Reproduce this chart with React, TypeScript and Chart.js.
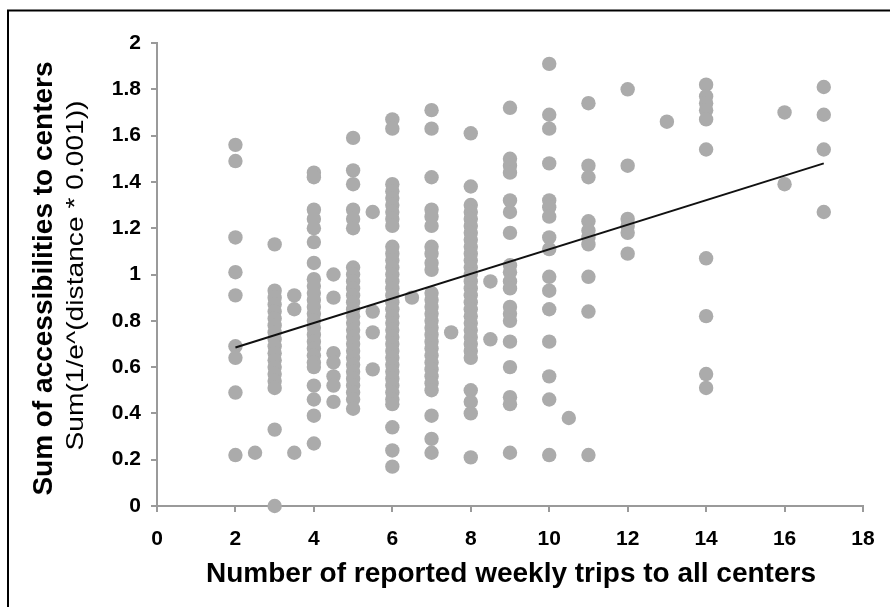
import React, { useEffect, useRef } from "react";
import { Chart, registerables } from "chart.js";

Chart.register(...registerables);

// Reported weekly trips (x positions of the point columns)
const tripCounts = [2, 2.5, 3, 3.5, 4, 4.5, 5, 5.5, 6, 6.5, 7, 7.5, 8, 8.5, 9, 10, 10.5, 11, 12, 13, 14, 16, 17];

// Sum of accessibilities for each trip-count column (parallel to tripCounts)
const accessibilityByTrips = [
  [1.56, 1.49, 1.16, 1.01, 0.91, 0.69, 0.64, 0.49, 0.22],
  [0.23],
  [1.13, 0.93, 0.9, 0.87, 0.84, 0.81, 0.78, 0.75, 0.72, 0.69, 0.66, 0.63, 0.6, 0.57, 0.54, 0.51, 0.33, 0.0],
  [0.91, 0.85, 0.23],
  [1.44, 1.42, 1.28, 1.24, 1.2, 1.14, 1.05, 0.98, 0.95, 0.92, 0.89, 0.86, 0.83, 0.8, 0.77, 0.74, 0.71, 0.68, 0.65, 0.62, 0.6, 0.52, 0.46, 0.39, 0.27],
  [1.0, 0.9, 0.66, 0.62, 0.56, 0.52, 0.45],
  [1.59, 1.45, 1.39, 1.28, 1.24, 1.2, 1.03, 1.0, 0.97, 0.94, 0.91, 0.88, 0.85, 0.82, 0.79, 0.76, 0.73, 0.7, 0.67, 0.64, 0.61, 0.58, 0.55, 0.52, 0.49, 0.46, 0.42],
  [1.27, 0.84, 0.75, 0.59],
  [1.67, 1.63, 1.39, 1.36, 1.33, 1.3, 1.27, 1.24, 1.21, 1.12, 1.09, 1.06, 1.03, 1.0, 0.97, 0.94, 0.91, 0.88, 0.85, 0.82, 0.79, 0.76, 0.73, 0.7, 0.67, 0.64, 0.61, 0.58, 0.55, 0.52, 0.49, 0.46, 0.44, 0.34, 0.24, 0.17],
  [0.9],
  [1.71, 1.63, 1.42, 1.28, 1.25, 1.21, 1.12, 1.09, 1.05, 1.02, 0.92, 0.89, 0.86, 0.83, 0.8, 0.77, 0.74, 0.71, 0.68, 0.65, 0.62, 0.59, 0.56, 0.53, 0.5, 0.39, 0.29, 0.23],
  [0.75],
  [1.61, 1.38, 1.3, 1.27, 1.24, 1.21, 1.18, 1.15, 1.12, 1.09, 1.06, 1.03, 1.0, 0.97, 0.94, 0.91, 0.88, 0.85, 0.82, 0.79, 0.76, 0.73, 0.7, 0.67, 0.64, 0.5, 0.45, 0.4, 0.21],
  [0.97, 0.72],
  [1.72, 1.5, 1.47, 1.44, 1.32, 1.27, 1.18, 1.04, 1.01, 0.97, 0.94, 0.86, 0.83, 0.8, 0.71, 0.6, 0.47, 0.44, 0.23],
  [1.91, 1.69, 1.63, 1.48, 1.32, 1.29, 1.25, 1.16, 1.11, 0.99, 0.93, 0.85, 0.71, 0.56, 0.46, 0.22],
  [0.38],
  [1.74, 1.47, 1.42, 1.23, 1.19, 1.16, 1.13, 0.99, 0.84, 0.22],
  [1.8, 1.47, 1.24, 1.21, 1.18, 1.09],
  [1.66],
  [1.82, 1.77, 1.74, 1.71, 1.67, 1.54, 1.07, 0.82, 0.57, 0.51],
  [1.7, 1.39],
  [1.81, 1.69, 1.54, 1.27],
];

// Linear trend line end points
const trendX = [2, 17];
const trendY = [0.685, 1.48];

// Axis ticks
const xTicks = [0, 2, 4, 6, 8, 10, 12, 14, 16, 18];
const yTicks = [0, 0.2, 0.4, 0.6, 0.8, 1, 1.2, 1.4, 1.6, 1.8, 2];

const xTitle = "Number of reported weekly trips to all centers";
const yTitleMain = "Sum of accessibilities to centers";
const yTitleSub = "Sum(1/e^(distance * 0.001))";

const FONT = "'Liberation Sans', Arial, Helvetica, sans-serif";

export default function App() {
  const canvasRef = useRef<HTMLCanvasElement | null>(null);

  useEffect(() => {
    const canvas = canvasRef.current;
    if (!canvas) return;

    const scatterPoints: { x: number; y: number }[] = [];
    tripCounts.forEach((t, i) => {
      accessibilityByTrips[i].forEach((v) => scatterPoints.push({ x: t, y: v }));
    });
    const trendPoints = trendX.map((x, i) => ({ x, y: trendY[i] }));

    const decorPlugin = {
      id: "decor",
      beforeDraw(chart: any) {
        const ctx = chart.ctx;
        ctx.save();
        ctx.fillStyle = "#ffffff";
        ctx.fillRect(0, 0, chart.width, chart.height);
        // frame (top & left visible)
        ctx.strokeStyle = "#000000";
        ctx.lineWidth = 2;
        ctx.beginPath();
        ctx.moveTo(8, chart.height + 5);
        ctx.lineTo(8, 10.5);
        ctx.lineTo(chart.width + 5, 10.5);
        ctx.stroke();
        ctx.restore();
      },
      afterDraw(chart: any) {
        const ctx = chart.ctx;
        const area = chart.chartArea;
        const cx = (area.left + area.right) / 2;
        const cy = (area.top + area.bottom) / 2;
        ctx.save();
        ctx.fillStyle = "#000000";
        ctx.textAlign = "center";
        ctx.textBaseline = "alphabetic";
        // x title
        ctx.font = `bold 28px ${FONT}`;
        ctx.fillText(xTitle, cx + 1, 582);
        // y title line 1
        ctx.save();
        ctx.translate(52, cy + 4);
        ctx.rotate(-Math.PI / 2);
        ctx.font = `bold 28px ${FONT}`;
        ctx.fillText(yTitleMain, 0, 0);
        ctx.restore();
        // y title line 2
        ctx.save();
        ctx.translate(83, cy + 1);
        ctx.rotate(-Math.PI / 2);
        ctx.font = `24px ${FONT}`;
        const w = ctx.measureText(yTitleSub).width;
        const sx = 350 / w;
        ctx.scale(sx, 1);
        ctx.fillText(yTitleSub, 0, 0);
        ctx.restore();
        ctx.restore();
      },
    };

    const axisColor = "#9a9a9a";

    const chart = new Chart(canvas, {
      type: "scatter",
      data: {
        datasets: [
          {
            type: "line",
            data: trendPoints,
            borderColor: "#111111",
            borderWidth: 2,
            pointRadius: 0,
            fill: false,
            showLine: true,
          } as any,
          {
            data: scatterPoints,
            backgroundColor: "#ababab",
            borderColor: "#ababab",
            borderWidth: 0,
            pointRadius: 7.2,
            pointHoverRadius: 7.2,
            clip: false,
          } as any,
        ],
      },
      options: {
        animation: false,
        responsive: false,
        devicePixelRatio: 1,
        events: [],
        layout: { padding: { left: 0, top: 43, right: 27, bottom: 0 } },
        plugins: {
          legend: { display: false },
          tooltip: { enabled: false },
          title: { display: false },
        },
        scales: {
          x: {
            type: "linear",
            min: 0,
            max: 18,
            afterFit: (s: any) => {
              s.height = 101;
            },
            afterBuildTicks: (s: any) => {
              s.ticks = xTicks.map((v) => ({ value: v }));
            },
            ticks: {
              color: "#000000",
              font: { family: FONT, size: 21, weight: "bold" },
              padding: 15,
              maxRotation: 0,
              callback: (v: any) => String(v),
            },
            grid: {
              drawOnChartArea: false,
              drawTicks: true,
              tickLength: 6,
              color: axisColor,
              lineWidth: 2,
            },
            border: { display: true, color: axisColor, width: 2 },
          },
          y: {
            type: "linear",
            min: 0,
            max: 2,
            afterFit: (s: any) => {
              s.width = 157;
            },
            afterBuildTicks: (s: any) => {
              s.ticks = yTicks.map((v) => ({ value: v }));
            },
            ticks: {
              color: "#000000",
              font: { family: FONT, size: 21, weight: "bold" },
              padding: 10,
              callback: (v: any) => String(Number(Number(v).toFixed(1))),
            },
            grid: {
              drawOnChartArea: false,
              drawTicks: true,
              tickLength: 6,
              color: axisColor,
              lineWidth: 2,
            },
            border: { display: true, color: axisColor, width: 2 },
          },
        },
      },
      plugins: [decorPlugin],
    });

    return () => chart.destroy();
  }, []);

  return (
    <div style={{ position: "absolute", left: 0, top: 0, width: 890, height: 607 }}>
      <canvas ref={canvasRef} width={890} height={607} style={{ width: 890, height: 607, display: "block" }} />
    </div>
  );
}
